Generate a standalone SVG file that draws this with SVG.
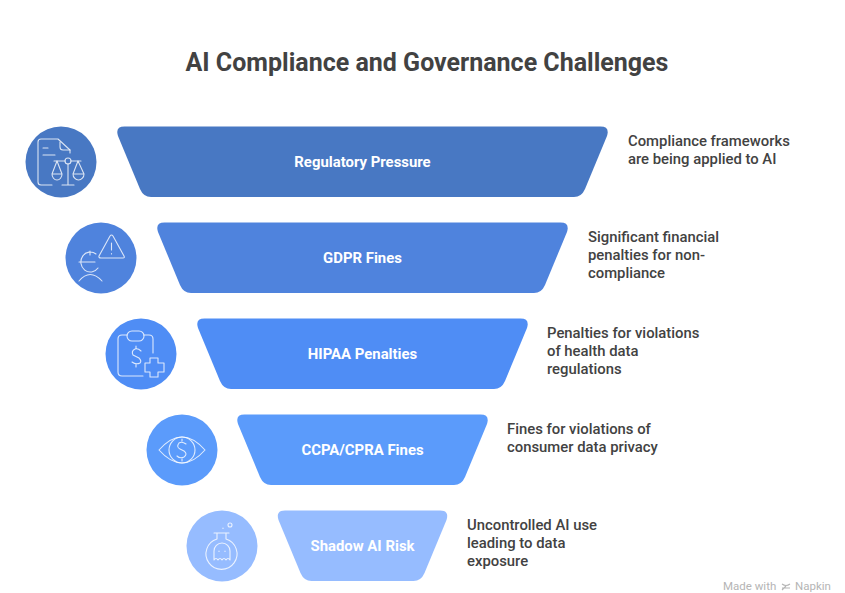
<svg xmlns="http://www.w3.org/2000/svg" width="845" height="593" viewBox="0 0 845 593">
<style>
text{font-family:Roboto,"Liberation Sans",sans-serif}
.t{font-size:25px;font-weight:700;fill:#424242;text-anchor:middle}
.l{font-size:14.9px;font-weight:700;fill:#fff;text-anchor:middle}
.d{font-size:14.85px;font-weight:500;fill:#424242}
.w{font-size:11.5px;fill:#b5b5b5}
.i{fill:none;stroke:#fff;stroke-opacity:.8;stroke-width:1.1;stroke-linecap:round;stroke-linejoin:round}
</style>
<rect width="845" height="593" fill="#fff"/>
<text class="t" x="427" y="71">AI Compliance and Governance Challenges</text>
<g id="connectors"/>
<g id="node-regulatory">
<circle cx="61" cy="162" r="35.500" fill="#4878c3"/>
<g class="i">
<path d="M70 153V150L58 139H41Q38 139 38 142V182Q38 185 41 185H52"/>
<path d="M60 142V147Q60 150 63 150H70M43 148H48M43 155H55"/>
<path d="M54 161H65M71 161H81M68 164V185M62 185H74"/>
<circle cx="68" cy="161" r="3"/>
<path d="M57 161L52 174H62L57 161M52 174A5 6 0 0 0 62 174"/>
<path d="M78 161L73 174H84L78 161M73 174A5.500 6 0 0 0 84 174"/>
</g>
<path d="M124.500 126.500H600.500Q610 126.500 607 136L585 189Q581.500 197 574 197H151Q143.500 197 140 189L118 136Q115 126.500 124.500 126.500Z" fill="#4878c3"/>
<text class="l" x="362.500" y="166.500">Regulatory Pressure</text>
<text class="d"><tspan x="628" y="146">Compliance frameworks</tspan><tspan x="628" y="164">are being applied to AI</tspan></text>
</g>
<g id="node-gdpr">
<circle cx="101" cy="258" r="35.500" fill="#4f83dd"/>
<g class="i">
<path d="M110 236L99 256Q98.500 258 101 258H123Q125 258 124 256L113 236Q111.500 234 110 236ZM111.500 243V250M111.500 253.500V254"/>
<path d="M96 254A9.500 10 0 1 0 98 268M79 262H95M90 251V255"/>
<path d="M79 281Q90 268 102 281"/>
</g>
<path d="M164.500 222.500H560.500Q570 222.500 567 232L545 285Q541.500 293 534 293H191Q183.500 293 180 285L158 232Q155 222.500 164.500 222.500Z" fill="#4f83dd"/>
<text class="l" x="362.500" y="262.500">GDPR Fines</text>
<text class="d"><tspan x="588" y="242">Significant financial</tspan><tspan x="588" y="260">penalties for non-</tspan><tspan x="588" y="278">compliance</tspan></text>
</g>
<g id="node-hipaa">
<circle cx="141" cy="354" r="35.500" fill="#4f8df5"/>
<g class="i">
<path d="M127 335H122Q118 335 118 339V372Q118 376 122 376H143M144 335H149Q153 335 153 339V353"/>
<rect x="127" y="331" width="17" height="10" rx="5"/>
<path d="M141 351Q138 348 135 349Q131 351 133 355L139 358Q142 361 140 363Q136 365 132 362M136 346V348M136 364V367"/>
<path d="M150 358H158V363H164V372H158V377H150V372H145V363H150Z"/>
</g>
<path d="M204.500 318.500H520.500Q530 318.500 527 328L505 381Q501.500 389 494 389H231Q223.500 389 220 381L198 328Q195 318.500 204.500 318.500Z" fill="#4f8df5"/>
<text class="l" x="362.500" y="358.500">HIPAA Penalties</text>
<text class="d"><tspan x="547" y="338">Penalties for violations</tspan><tspan x="547" y="356">of health data</tspan><tspan x="547" y="374">regulations</tspan></text>
</g>
<g id="node-ccpa">
<circle cx="182" cy="450" r="35.500" fill="#5b9bfb"/>
<g class="i">
<path d="M159 450Q182 424 205 450Q182 476 159 450Z"/>
<circle cx="182" cy="450" r="13"/>
<path d="M186 444Q182 441 179 443Q176 447 180 449L184 451Q188 454 184 457Q180 459 177 456M182 439V441M182 459V461"/>
</g>
<path d="M244.500 414.500H480.500Q490 414.500 487 424L465 477Q461.500 485 454 485H271Q263.500 485 260 477L238 424Q235 414.500 244.500 414.500Z" fill="#5b9bfb"/>
<text class="l" x="362.500" y="454.500">CCPA/CPRA Fines</text>
<text class="d"><tspan x="507" y="434">Fines for violations of</tspan><tspan x="507" y="452">consumer data privacy</tspan></text>
</g>
<g id="node-shadow">
<circle cx="222" cy="546" r="35.500" fill="#96bcff"/>
<g class="i">
<path d="M214 533H229M217 533V539A15.500 15.500 0 1 0 226 539V533"/>
<circle cx="230" cy="525" r="2"/>
<path d="M223 528V528.500"/>
<path d="M214 560V551A8 8 0 0 1 230 551V560Q228 557 226 560Q224 557 222 560Q220 557 218 560Q216 557 214 560Z"/>
<path d="M219 551V551.500M225 551V551.500"/>
</g>
<path d="M285 510.500H440Q449.500 510.500 446.500 520L424.500 573Q421 581 413.500 581H311.500Q304 581 300.500 573L278.500 520Q275.500 510.500 285 510.500Z" fill="#96bcff"/>
<text class="l" x="362.500" y="550.500">Shadow AI Risk</text>
<text class="d"><tspan x="467" y="530">Uncontrolled AI use</tspan><tspan x="467" y="548">leading to data</tspan><tspan x="467" y="566">exposure</tspan></text>
</g>
<text class="w" x="723" y="590">Made with</text>
<path d="M782 584Q786 587 790 584M782 588H790M782 590L786 586" fill="none" stroke="#b5b5b5" stroke-width="1.100"/>
<text class="w" x="795" y="590">Napkin</text>
</svg>
